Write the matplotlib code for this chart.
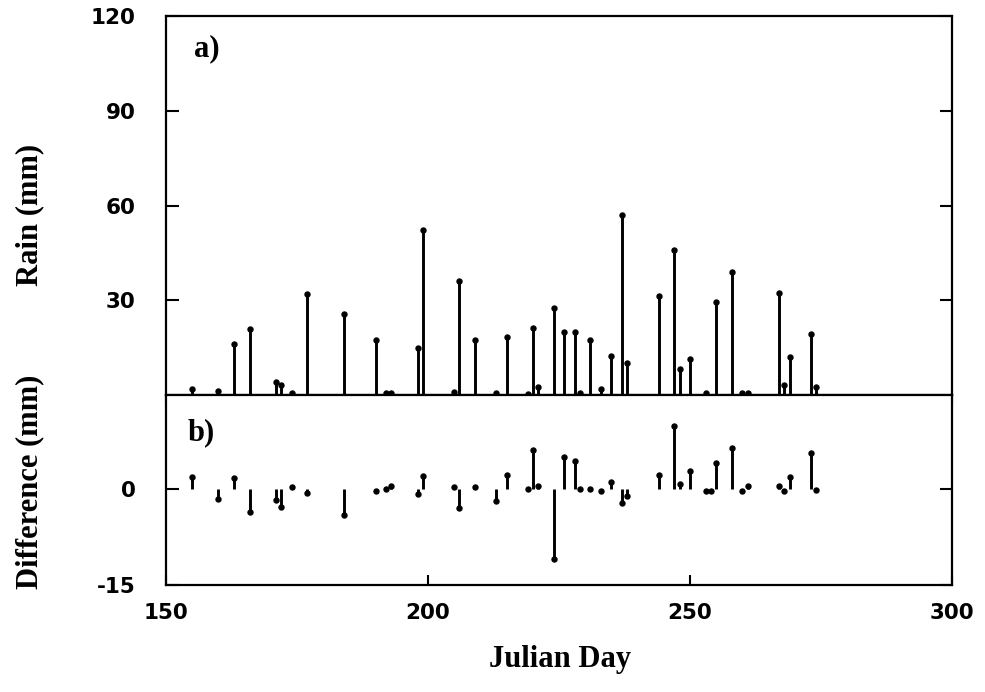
import matplotlib
matplotlib.use("Agg")
import matplotlib.pyplot as plt

# Daily rainfall (panel a) and difference between gauges (panel b)
rain_days = [155, 160, 163, 166, 171, 172, 174, 177, 184, 190,
             192, 193, 198, 199, 205, 206, 209, 213, 215, 219,
             220, 221, 224, 226, 228, 229, 231, 233, 235, 237,
             238, 244, 247, 248, 250, 253, 255, 258, 260, 261,
             267, 268, 269, 273, 274]
rain_mm = [1.8, 1.4, 16.0, 20.9, 4.2, 3.2, 0.7, 32.0, 25.7, 17.4,
           0.5, 0.5, 15.0, 52.2, 1.0, 36.1, 17.4, 0.5, 18.5, 0.3,
           21.3, 2.6, 27.5, 20.0, 20.0, 0.5, 17.4, 1.9, 12.3, 57.0,
           10.0, 31.4, 45.9, 8.1, 11.3, 0.5, 29.3, 39.0, 0.5, 0.5,
           32.2, 3.2, 12.1, 19.2, 2.4]

diff_days = [155, 160, 163, 166, 171, 172, 174, 177, 184, 190,
             192, 193, 198, 199, 205, 206, 209, 213, 215, 219,
             220, 221, 224, 226, 228, 229, 231, 233, 235, 237,
             238, 244, 247, 248, 250, 253, 254, 255, 258, 260,
             261, 267, 268, 269, 273, 274]
diff_mm = [2.0, -1.5, 1.8, -3.6, -1.7, -2.7, 0.3, -0.6, -4.0, -0.2,
           0.0, 0.5, -0.8, 2.1, 0.3, -3.0, 0.3, -1.8, 2.2, 0.1,
           6.2, 0.5, -11.0, 5.1, 4.4, 0.0, 0.0, -0.3, 1.1, -2.1,
           -1.0, 2.2, 10.0, 0.9, 2.9, -0.3, -0.3, 4.1, 6.5, -0.3,
           0.6, 0.5, -0.3, 2.0, 5.7, -0.1]

rain_ticks = [30, 60, 90, 120]
diff_ticks = [-15, 0]
day_ticks = [150, 200, 250, 300]

W, H = 985, 692
fig = plt.figure(figsize=(W / 100, H / 100), dpi=100)

left, right = 166 / W, 952 / W
top_y, split_y, bot_y = 16, 395, 585
ax_a = fig.add_axes([left, 1 - split_y / H, right - left, (split_y - top_y) / H])
ax_b = fig.add_axes([left, 1 - bot_y / H, right - left, (bot_y - split_y) / H],
                    sharex=ax_a)

tick_font = dict(family="DejaVu Sans", weight="bold", size=15.5)
label_font = dict(family="Liberation Serif", weight="bold", size=22)

def stems(ax, x, y):
    ax.vlines(x, 0, y, colors="black", linewidth=2.1)
    ax.plot(x, y, "o", color="black", markersize=4.6, markeredgewidth=0)

stems(ax_a, rain_days, rain_mm)
stems(ax_b, diff_days, diff_mm)

for ax in (ax_a, ax_b):
    for sp in ax.spines.values():
        sp.set_linewidth(1.6)
    ax.set_xlim(150, 300)

ax_a.set_ylim(0, 120)
ax_b.set_ylim(-15, 14.8)

# panel a ticks
ax_a.set_yticks(rain_ticks)
ax_a.set_yticklabels([str(t) for t in rain_ticks], fontdict=tick_font)
ax_a.tick_params(axis="y", direction="in", length=9, width=1.5,
                 left=True, right=True, pad=22)
ax_a.set_xticks([200, 250])
ax_a.tick_params(axis="x", direction="out", length=8, width=1.5,
                 labelbottom=False)

# panel b ticks
ax_b.set_yticks(diff_ticks)
ax_b.set_yticklabels([str(t) for t in diff_ticks], fontdict=tick_font)
ax_b.tick_params(axis="y", direction="in", length=9, width=1.5,
                 left=True, right=True, pad=22)
ax_b.set_xticks(day_ticks)
ax_b.set_xticklabels([str(t) for t in day_ticks], fontdict=tick_font)
ax_b.tick_params(axis="x", direction="in", length=7, width=1.5, pad=13)

ax_a.text(0.036, 0.895, "a)", transform=ax_a.transAxes, **label_font)
ax_b.text(0.027, 0.76, "b)", transform=ax_b.transAxes, **label_font)

fig.text(30 / W, 1 - 215 / H, "Rain (mm)", rotation=90, ha="center",
         va="center", **label_font)
fig.text(30 / W, 1 - 482 / H, "Difference (mm)", rotation=90, ha="center",
         va="center", **label_font)
fig.text(560 / W, 1 - 660 / H, "Julian Day", ha="center", va="center",
         **label_font)

fig.savefig("out.png", dpi=100)
